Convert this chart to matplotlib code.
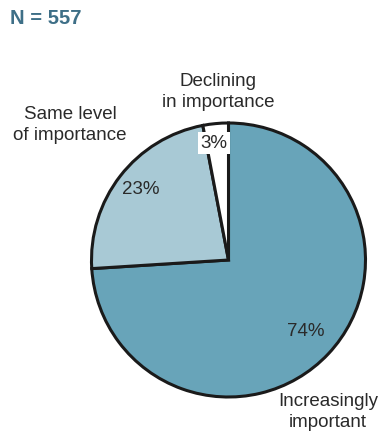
import matplotlib

matplotlib.use("Agg")
import matplotlib.pyplot as plt

plt.rcParams["font.family"] = ["Liberation Sans", "DejaVu Sans"]

# data
labels = ["Increasingly\nimportant", "Same level\nof importance", "Declining\nin importance"]
shares = [74, 23, 3]
pct_text = ["74%", "23%", "3%"]
colors = ["#68a4b9", "#a8c9d5", "#ffffff"]
n_total = 557

W, H = 382, 432
fig = plt.figure(figsize=(W / 100, H / 100), dpi=100)
ax = fig.add_axes([0, 0, 1, 1])


def py(y):
    # pixel row -> data y
    return H - y


ax.pie(shares, colors=colors, startangle=90, counterclock=False,
       center=(228.5, py(260)), radius=137,
       wedgeprops=dict(edgecolor="#1a1a1a", linewidth=2.2))
ax.set_xlim(0, W)
ax.set_ylim(0, H)
ax.set_aspect("equal")
ax.axis("off")

ax.text(10, py(19), f"N = {n_total}", fontsize=14.5, fontweight="bold",
        color="#3e6f87", ha="left", va="center")

txt = dict(fontsize=13.5, color="#2a2a2a", ha="center", va="center", linespacing=1.3)
ax.text(328, py(412), labels[0], **txt)
ax.text(70, py(125), labels[1], **txt)
ax.text(218, py(92), labels[2], **txt)

ax.text(306, py(332), pct_text[0], **txt)
ax.text(141, py(189), pct_text[1], **txt)
ax.text(214, py(143), pct_text[2],
        bbox=dict(facecolor="white", edgecolor="none", pad=1.5), **txt)

fig.savefig("out.png", dpi=100)
